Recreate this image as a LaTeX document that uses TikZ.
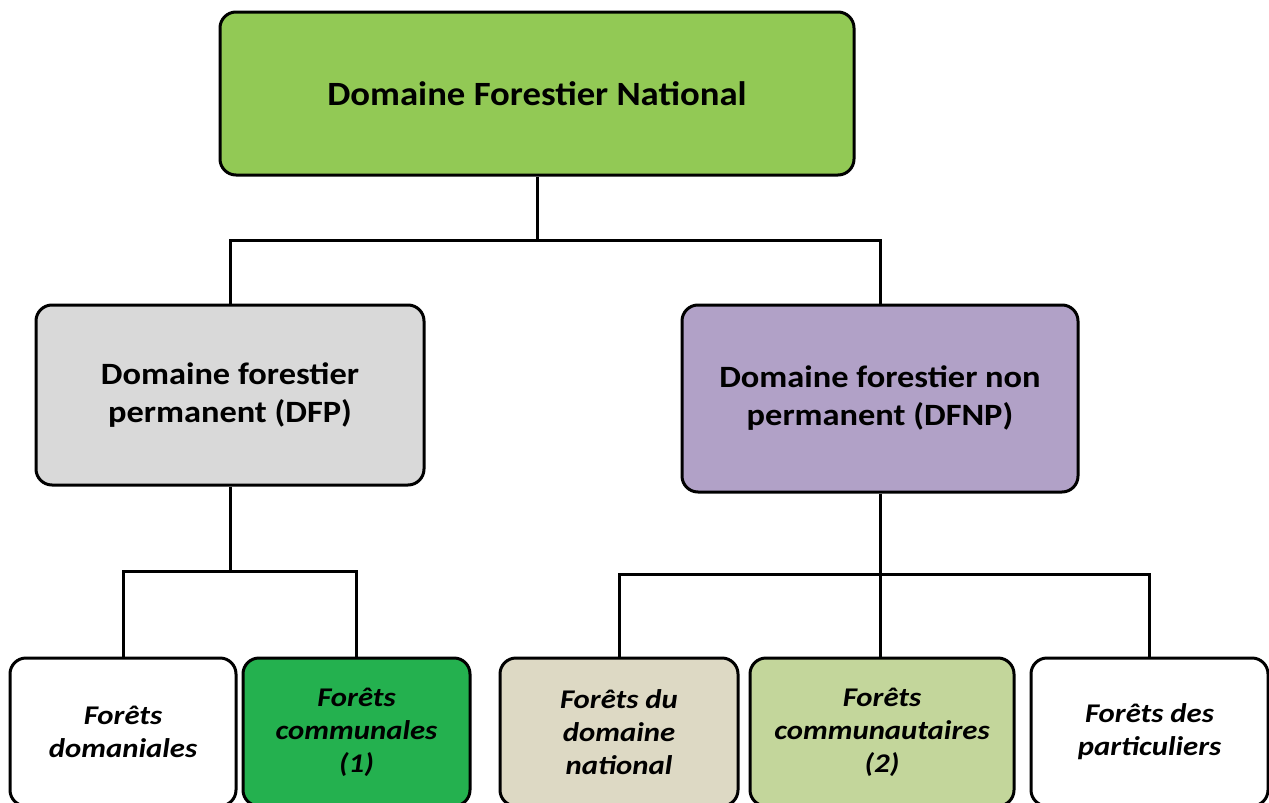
\documentclass[tikz,border=0pt]{standalone}
\usepackage{fontspec}
\setmainfont{Carlito}
\newfontfamily\topfont[FakeStretch=1.08]{Carlito}
\newfontfamily\midfont[FakeStretch=1.11]{Carlito}
\newfontfamily\botfont[FakeStretch=1.14]{Carlito}
\definecolor{topgreen}{HTML}{92C955}
\definecolor{dfpgray}{HTML}{D9D9D9}
\definecolor{dfnppurple}{HTML}{B1A1C7}
\definecolor{comgreen}{HTML}{24B14F}
\definecolor{natan}{HTML}{DDD9C4}
\definecolor{olive}{HTML}{C3D69B}
\tikzset{
  box/.style={draw=black, line width=3pt, rounded corners=16pt, align=center, inner sep=0pt},
  conn/.style={draw=black, line width=3pt},
  toptext/.style={font=\topfont\fontsize{34}{40}\selectfont\bfseries},
  midtext/.style={font=\midfont\fontsize{31}{38}\selectfont\bfseries},
  bottext/.style={font=\botfont\fontsize{27}{33}\selectfont\bfseries\itshape},
}
\begin{document}
\begin{tikzpicture}[x=1pt,y=-1pt]
\useasboundingbox (0,0) rectangle (1269,803);
\clip (0,0) rectangle (1269,803);
\node[box, toptext, fill=topgreen, minimum width=634pt, minimum height=163pt] (top) at (537,93.5) {Domaine Forestier National};
\node[box, midtext, fill=dfpgray, minimum width=388pt, minimum height=180pt] (dfp) at (230,395) {Domaine forestier\\permanent (DFP)};
\node[box, midtext, fill=dfnppurple, minimum width=396pt, minimum height=187pt] (dfnp) at (880,398.5) {Domaine forestier non\\permanent (DFNP)};
\node[box, bottext, fill=white, minimum width=226pt, minimum height=148pt] (b1) at (123,732) {Forêts\\domaniales};
\node[box, bottext, fill=comgreen, minimum width=227pt, minimum height=148pt] (b2) at (356.5,732) {Forêts\\communales\\(1)};
\node[box, bottext, fill=natan, minimum width=238pt, minimum height=148pt] (b3) at (619,732) {Forêts du\\domaine\\national};
\node[box, bottext, fill=olive, minimum width=264pt, minimum height=148pt] (b4) at (882,732) {Forêts\\communautaires\\(2)};
\node[box, bottext, fill=white, minimum width=237pt, minimum height=148pt] (b5) at (1149.5,732) {Forêts des\\particuliers};
\coordinate (j1) at (537,240);
\coordinate (j2) at (230,571);
\coordinate (j3) at (880,574);
\draw[conn] (top.south) -- (j1);
\draw[conn] (dfp.north) |- (j1) -| (dfnp.north);
\draw[conn] (dfp.south) -- (j2);
\draw[conn] (b1.north) |- (j2) -| (b2.north);
\draw[conn] (dfnp.south) -- (j3);
\draw[conn] (j3) -- (j3 |- b4.north);
\draw[conn] (b3.north) |- (j3) -| (b5.north);
\end{tikzpicture}
\end{document}
